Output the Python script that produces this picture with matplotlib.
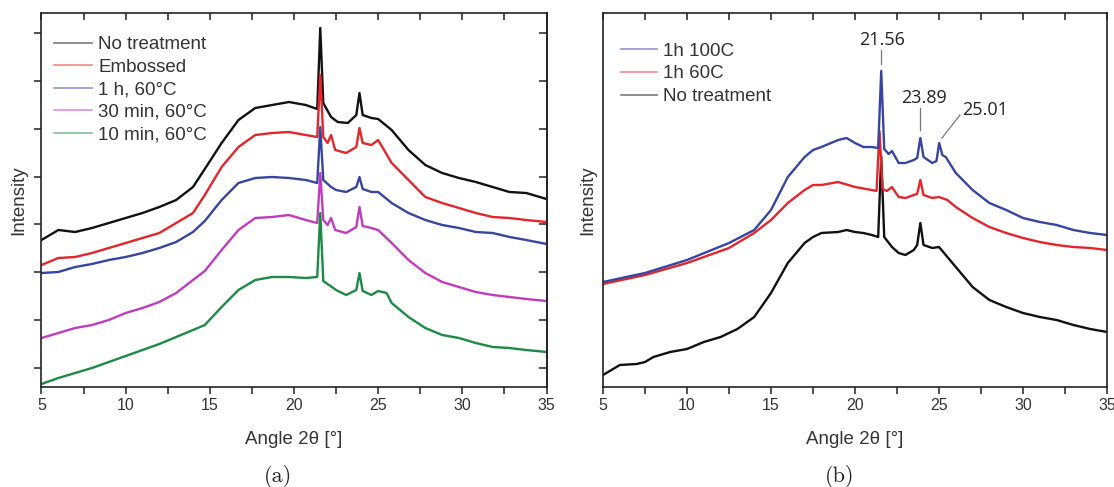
import matplotlib
matplotlib.use("Agg")
import matplotlib.pyplot as plt
from matplotlib.lines import Line2D
import numpy as np

# ---------------- data: panel (a) ----------------
xa_black = [5, 6, 7, 8, 9, 10, 11, 12, 13, 14, 14.7, 15.7, 16.7, 17.7, 18.7, 19.7, 20.7, 21.38, 21.56, 21.74,
            22.2, 22.6, 23.2, 23.7, 23.89, 24.08, 24.6, 25.0, 25.8, 26.8, 27.8, 28.8, 29.8, 30.8, 31.8, 32.8, 33.8, 35]
ya_black = [147, 157, 155, 159, 164, 169, 174, 180, 187, 200, 218, 244, 267, 279, 282, 285, 282, 278, 359, 284,
            270, 265, 264, 272, 294, 272, 269, 268, 257, 237, 222, 214, 209, 205, 200, 195, 194, 188]

xa_red = [5, 6, 7, 8, 9, 10, 11, 12, 13, 14, 14.7, 15.7, 16.7, 17.7, 18.7, 19.7, 20.7, 21.38, 21.56, 21.74,
          22.0, 22.2, 22.45, 23.1, 23.7, 23.89, 24.08, 24.6, 25.0, 25.8, 26.8, 27.8, 28.8, 29.8, 30.8, 31.8, 32.8, 33.8, 35]
ya_red = [122, 129, 130, 134, 139, 144, 149, 154, 164, 174, 192, 220, 240, 252, 254, 255, 252, 250, 312, 250,
          244, 252, 237, 234, 240, 259, 244, 242, 247, 224, 207, 190, 184, 179, 174, 170, 169, 167, 165]

xa_blue = [5, 6, 7, 8, 9, 10, 11, 12, 13, 14, 14.7, 15.7, 16.7, 17.7, 18.7, 19.7, 20.7, 21.38, 21.56, 21.74,
           22.2, 22.5, 23.1, 23.7, 23.89, 24.08, 24.6, 25.0, 25.8, 26.8, 27.8, 28.8, 29.8, 30.8, 31.8, 32.8, 33.8, 35]
ya_blue = [114, 115, 120, 123, 127, 130, 134, 139, 145, 155, 166, 187, 204, 209, 210, 209, 207, 204, 260, 207,
           200, 197, 195, 200, 210, 198, 195, 195, 184, 174, 167, 162, 159, 155, 154, 150, 147, 143]

xa_mag = [5, 6, 7, 8, 9, 10, 11, 12, 13, 14, 14.7, 15.7, 16.7, 17.7, 18.7, 19.7, 20.7, 21.38, 21.56, 21.74,
          22.0, 22.2, 22.45, 23.1, 23.7, 23.89, 24.08, 24.6, 25.0, 25.8, 26.8, 27.8, 28.8, 29.8, 30.8, 31.8, 32.8, 33.8, 35]
ya_mag = [49, 54, 59, 62, 67, 74, 79, 85, 94, 107, 116, 137, 157, 169, 170, 172, 167, 164, 214, 167,
          162, 169, 157, 154, 160, 180, 161, 159, 157, 144, 127, 114, 105, 100, 95, 92, 90, 88, 86]

xa_green = [5, 6, 7, 8, 9, 10, 11, 12, 13, 14, 14.7, 15.7, 16.7, 17.7, 18.7, 19.7, 20.7, 21.38, 21.56, 21.74,
            22.5, 23.1, 23.7, 23.89, 24.08, 24.6, 25.0, 25.5, 25.8, 26.8, 27.8, 28.8, 29.8, 30.8, 31.8, 32.8, 33.8, 35]
ya_green = [3, 9, 14, 19, 25, 31, 37, 43, 50, 57, 62, 80, 97, 107, 110, 110, 109, 110, 174, 106,
            97, 92, 97, 114, 96, 92, 96, 94, 84, 70, 59, 52, 49, 44, 40, 39, 37, 35]

labels_a = ["No treatment", "Embossed", "1 h, 60\u00b0C", "30 min, 60\u00b0C", "10 min, 60\u00b0C"]

# ---------------- data: panel (b) ----------------
xb_blue = [5, 7.5, 10, 12.5, 14, 15, 16, 17, 17.5, 18, 19, 19.5, 20, 20.5, 21.0, 21.38, 21.56, 21.74, 22.0, 22.2,
           22.6, 23.0, 23.5, 23.7, 23.89, 24.08, 24.6, 24.85, 25.01, 25.2, 25.4, 26, 27, 28, 29, 30, 31, 32, 33, 34, 35]
yb_blue = [105, 114, 127, 144, 157, 177, 210, 230, 237, 240, 247, 249, 244, 240, 240, 239, 316, 238, 233, 236,
           224, 224, 227, 229, 249, 230, 224, 226, 244, 232, 230, 214, 197, 184, 177, 169, 165, 162, 157, 154, 152]

xb_red = [5, 7.5, 10, 12.5, 14, 15, 16, 17, 17.5, 18, 19, 20, 21.0, 21.28, 21.46, 21.64, 21.9, 22.2,
          22.6, 23.0, 23.5, 23.7, 23.89, 24.08, 24.6, 25.0, 25.5, 26, 27, 28, 29, 30, 31, 32, 33, 34, 35]
yb_red = [103, 112, 124, 139, 154, 167, 184, 197, 202, 202, 205, 200, 197, 196, 256, 198, 196, 200,
          190, 189, 192, 193, 207, 192, 189, 190, 187, 180, 169, 160, 154, 149, 145, 142, 140, 139, 137]

xb_black = [5, 6, 7, 7.5, 8, 9, 10, 11, 12, 13, 14, 15, 16, 17, 17.5, 18, 19, 19.5, 20, 20.5, 21, 21.38, 21.56, 21.74,
            22.2, 22.6, 23, 23.5, 23.7, 23.89, 24.08, 24.6, 25, 25.5, 26, 27, 28, 29, 30, 31, 32, 33, 34, 35]
yb_black = [12, 22, 23, 25, 30, 35, 38, 45, 50, 58, 70, 94, 124, 144, 150, 154, 155, 157, 155, 154, 152, 150, 231, 150,
            140, 134, 132, 137, 142, 164, 142, 139, 140, 130, 120, 100, 87, 80, 74, 70, 67, 62, 58, 55]

labels_b = ["1h 100C", "1h 60C", "No treatment"]

peak_pos = [21.56, 23.89, 25.01]
peak_text = ["21.56", "23.89", "25.01"]

# ---------------- styling ----------------
C_BLACK = "#111111"
C_RED = "#e2262b"
C_BLUE = "#3845a0"
C_MAG = "#c03cbe"
C_GREEN = "#1d8a45"
TXT = "#333333"
SANS = ["Liberation Sans", "DejaVu Sans"]

plt.rcParams["font.family"] = SANS
plt.rcParams["axes.edgecolor"] = "#222222"
plt.rcParams["axes.linewidth"] = 1.2

fig = plt.figure(figsize=(11.14, 4.87), dpi=100)
W, H = 1114, 487
def ax_rect(l, r, t, b):
    return [l / W, 1 - b / H, (r - l) / W, (b - t) / H]

axa = fig.add_axes(ax_rect(41.5, 546.5, 13.3, 386.7))
axb = fig.add_axes(ax_rect(603, 1107, 13.3, 386.7))

LW = 1.7
axa.plot(xa_black, ya_black, color=C_BLACK, lw=LW)
axa.plot(xa_red, ya_red, color=C_RED, lw=LW)
axa.plot(xa_blue, ya_blue, color=C_BLUE, lw=LW)
axa.plot(xa_mag, ya_mag, color=C_MAG, lw=LW)
axa.plot(xa_green, ya_green, color=C_GREEN, lw=LW)

axb.plot(xb_black, yb_black, color=C_BLACK, lw=LW)
axb.plot(xb_red, yb_red, color=C_RED, lw=LW)
axb.plot(xb_blue, yb_blue, color=C_BLUE, lw=LW)

for ax in (axa, axb):
    ax.set_xlim(5, 35)
    ax.set_ylim(0.3, 373.7)
    ax.set_xticks([5, 10, 15, 20, 25, 30, 35])
    ax.set_xticks([7.5, 12.5, 17.5, 22.5, 27.5, 32.5], minor=True)
    ax.tick_params(axis="x", which="both", direction="out", length=5, width=1.1,
                   color="#222222", labelsize=11.5, labelcolor=TXT, pad=3, top=False)
    ax.set_xlabel("Angle 2\u03b8 [\u00b0]", fontsize=13.5, color=TXT, labelpad=13)
    ax.set_ylabel("Intensity", fontsize=13.5, color=TXT, labelpad=5)
    sec = ax.secondary_xaxis("top")
    sec.set_xticks([5, 10, 15, 20, 25, 30, 35])
    sec.set_xticks([7.5, 12.5, 17.5, 22.5, 27.5, 32.5], minor=True)
    sec.tick_params(axis="x", which="both", direction="in", length=5, width=1.1,
                    color="#222222", labelsize=0, labeltop=False)
    sec.spines["top"].set_visible(False)

yt = [19.3 + 47.77 * k for k in range(8)]
axa.set_yticks(yt)
axa.tick_params(axis="y", which="major", direction="out", length=5, width=1.1,
                color="#222222", labelleft=False)
seca = axa.secondary_yaxis("right")
seca.set_yticks(yt)
seca.tick_params(axis="y", direction="in", length=6, width=1.1, color="#222222", labelright=False)
axb.set_yticks([])

# legends
ha = [Line2D([], [], color=c, lw=1.2, alpha=0.55) for c in (C_BLACK, C_RED, C_BLUE, C_MAG, C_GREEN)]
leg_a = axa.legend(ha, labels_a, loc="upper left", bbox_to_anchor=(0.025, 0.939), frameon=False,
                   fontsize=13.5, handlelength=2.0, handletextpad=0.35, labelspacing=0.29,
                   borderpad=0, borderaxespad=0)
for t in leg_a.get_texts():
    t.set_color(TXT)
hb = [Line2D([], [], color=c, lw=1.2, alpha=0.55) for c in (C_BLUE, C_RED, C_BLACK)]
leg_b = axb.legend(hb, labels_b, loc="upper left", bbox_to_anchor=(0.036, 0.922), frameon=False,
                   fontsize=13.5, handlelength=1.9, handletextpad=0.35, labelspacing=0.31,
                   borderpad=0, borderaxespad=0)
for t in leg_b.get_texts():
    t.set_color(TXT)

# peak annotations
ann_xy = [(peak_pos[0], 337), (peak_pos[1], 279), (26.25, 272)]
ann_tip = [(peak_pos[0], 323), (peak_pos[1], 257), (25.18, 249)]
txt_xy = [(21.6, 347), (24.1, 289), (27.75, 277)]
for (x0, y0), (x1, y1), (tx, ty), s in zip(ann_xy, ann_tip, txt_xy, peak_text):
    axb.plot([x0, x1], [y0, y1], color="#777777", lw=0.9)
    axb.text(tx, ty, s, ha="center", va="center", fontsize=13, color="#222222",
             family=["Open Sans", "DejaVu Sans"])

# panel captions
fig.text(278 / W, 1 - 477 / H, "(a)", ha="center", va="center", fontsize=16,
         family=["cmr10", "DejaVu Serif"], color="#222222")
fig.text(840 / W, 1 - 477 / H, "(b)", ha="center", va="center", fontsize=16,
         family=["cmr10", "DejaVu Serif"], color="#222222")

fig.savefig("out.png", dpi=100, facecolor="white")
